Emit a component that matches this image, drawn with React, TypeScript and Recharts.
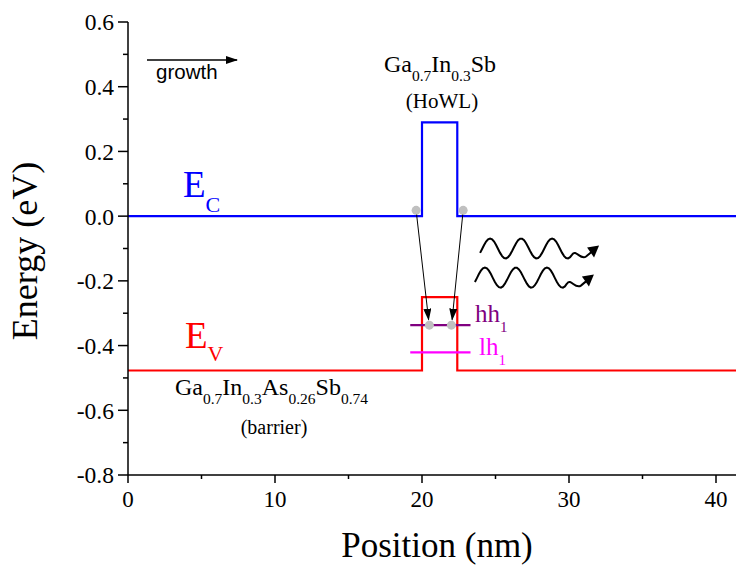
import React from 'react';
import { ComposedChart, Line, Scatter, XAxis, YAxis } from 'recharts';

// band-edge profile (position in nm, energy in eV)
const edgeX = [0, 20, 20, 22.4, 22.4, 42];
const ecY = [0, 0, 0.29, 0.29, 0, 0];
const evY = [-0.477, -0.477, -0.25, -0.25, -0.477, -0.477];

// confined levels in the well
const levelX = [19.2, 23.3];
const hh1Y = -0.337;
const lh1Y = -0.421;

// carriers (grey dots) and transitions
const carrierX = [19.6, 22.8, 20.5, 22.0];
const carrierY = [0.018, 0.018, -0.337, -0.337];
const arrowFromX = [19.6, 22.8];
const arrowFromY = [0.018, 0.018];
const arrowToX = [20.45, 22.05];
const arrowToY = [-0.32, -0.32];

// emitted photons (start of each wavy arrow)
const photonX = [23.95, 23.6];
const photonY = [-0.1, -0.19];

const xTicks = [0, 5, 10, 15, 20, 25, 30, 35, 40];
const yTicks = [-0.8, -0.7, -0.6, -0.5, -0.4, -0.3, -0.2, -0.1, 0, 0.1, 0.2, 0.3, 0.4, 0.5, 0.6];

const SERIF = '"Liberation Serif", "Times New Roman", serif';
const SANS = '"Liberation Sans", Arial, sans-serif';

const ecData = edgeX.map((x, i) => ({ x, y: ecY[i] }));
const evData = edgeX.map((x, i) => ({ x, y: evY[i] }));
const hhData = levelX.map((x) => ({ x, y: hh1Y }));
const lhData = levelX.map((x) => ({ x, y: lh1Y }));
const carrierData = carrierX.map((x, i) => ({ x, y: carrierY[i] }));
const arrowData = arrowFromX.map((x, i) => [
  { x, y: arrowFromY[i] },
  { x: arrowToX[i], y: arrowToY[i] },
]);
const photonData = photonX.map((x, i) => ({ x, y: photonY[i] }));

function YTick({ x, y, payload }: any) {
  const v = payload.value as number;
  const major = Math.round(v * 10) % 2 === 0;
  return (
    <g>
      <line x1={x} x2={x - (major ? 10 : 5)} y1={y} y2={y} stroke="#000" strokeWidth={1.5} />
      {major && (
        <text x={x - 14} y={y} dy="0.36em" textAnchor="end" fontFamily={SERIF} fontSize={23.5} fill="#000">
          {v.toFixed(1)}
        </text>
      )}
    </g>
  );
}

function XTick({ x, y, payload }: any) {
  const v = payload.value as number;
  const major = v % 10 === 0;
  return (
    <g>
      <line x1={x} x2={x} y1={y} y2={y + (major ? 8 : 4)} stroke="#000" strokeWidth={1.5} />
      {major && (
        <text x={x} y={y + 32} textAnchor="middle" fontFamily={SERIF} fontSize={23} fill="#000">
          {v}
        </text>
      )}
    </g>
  );
}

function GreyDot({ cx, cy }: any) {
  return <circle cx={cx} cy={cy} r={4.5} fill="#c0c0c0" />;
}

// wavy photon arrow drawn from its anchor point
function Photon({ cx, cy }: any) {
  const pts: string[] = [];
  for (let t = 0; t <= 92; t += 2) {
    const yy = -10 * Math.cos((2 * Math.PI * (t - 10)) / 31);
    pts.push(`${(cx + t).toFixed(1)},${(cy + yy).toFixed(1)}`);
  }
  const ex = cx + 92;
  const ey = cy - 10 * Math.cos((2 * Math.PI * 82) / 31);
  const d =
    `M${pts.join(' L')} ` +
    `C${ex + 4},${ey - 6} ${ex + 8},${cy + 12} ${ex + 14},${cy + 8} ` +
    `L${ex + 20},${cy + 3}`;
  return (
    <g>
      <path d={d} fill="none" stroke="#000" strokeWidth={2} />
      <path
        d={`M${ex + 27},${cy - 3} L${ex + 15},${cy - 1} L${ex + 22},${cy + 9} Z`}
        fill="#000"
      />
    </g>
  );
}

export default function App() {
  return (
    <div style={{ position: 'absolute', left: 0, top: 0, width: 736, height: 567, overflow: 'hidden', background: '#fff' }}>
      <ComposedChart width={760} height={567} margin={{ top: 22, right: 14.6, bottom: 0, left: 0 }}>
        <XAxis
          dataKey="x"
          type="number"
          domain={[0, 42]}
          ticks={xTicks}
          allowDataOverflow
          height={92}
          tickSize={0}
          tickMargin={0}
          tickLine={false}
          tick={<XTick />}
          axisLine={{ stroke: '#000', strokeWidth: 1.5 }}
          interval={0}
        />
        <XAxis
          xAxisId="top"
          orientation="top"
          type="number"
          domain={[0, 42]}
          height={0}
          tick={false}
          tickLine={false}
          axisLine={{ stroke: '#000', strokeWidth: 1.5 }}
        />
        <YAxis
          type="number"
          domain={[-0.8, 0.6]}
          ticks={yTicks}
          allowDataOverflow
          width={128}
          tickSize={0}
          tickMargin={0}
          tickLine={false}
          tick={<YTick />}
          axisLine={{ stroke: '#000', strokeWidth: 1.5 }}
          interval={0}
        />
        <Line data={ecData} dataKey="y" type="linear" stroke="#0000ff" strokeWidth={2.2} dot={false} activeDot={false} isAnimationActive={false} />
        <Line data={evData} dataKey="y" type="linear" stroke="#ff0000" strokeWidth={2.2} dot={false} activeDot={false} isAnimationActive={false} />
        <Line data={hhData} dataKey="y" type="linear" stroke="#800080" strokeWidth={2.2} dot={false} activeDot={false} isAnimationActive={false} />
        <Line data={lhData} dataKey="y" type="linear" stroke="#ff00ff" strokeWidth={2.2} dot={false} activeDot={false} isAnimationActive={false} />
        {arrowData.map((d, i) => (
          <Line
            key={`arrow-${i}`}
            data={d}
            dataKey="y"
            type="linear"
            stroke="#000"
            strokeWidth={1}
            dot={false}
            activeDot={false}
            markerEnd="url(#arrowHead)"
            isAnimationActive={false}
          />
        ))}
        <Scatter data={carrierData} dataKey="y" shape={<GreyDot />} isAnimationActive={false} />
        <Scatter data={photonData} dataKey="y" shape={<Photon />} isAnimationActive={false} />
      </ComposedChart>

      <svg width={736} height={567} style={{ position: 'absolute', left: 0, top: 0, pointerEvents: 'none' }}>
        <defs>
          <marker id="arrowHead" markerUnits="userSpaceOnUse" markerWidth={12} markerHeight={8} refX={11} refY={4} orient="auto">
            <path d="M0,0 L12,4 L0,8 Z" fill="#000" />
          </marker>
        </defs>

        <line x1={147} y1={60} x2={237} y2={60} stroke="#000" strokeWidth={1.3} markerEnd="url(#arrowHead)" />
        <text x={156} y={79} fontFamily={SANS} fontSize={20.5} fill="#000">growth</text>

        <text x={440} y={72} textAnchor="middle" fontFamily={SERIF} fontSize={24} fill="#000">
          Ga<tspan fontSize={15.5} dy={9}>0.7</tspan>
          <tspan dy={-9}>In</tspan>
          <tspan fontSize={15.5} dy={9}>0.3</tspan>
          <tspan dy={-9}>Sb</tspan>
        </text>
        <text x={442} y={108} textAnchor="middle" fontFamily={SERIF} fontSize={21} fill="#000">(HoWL)</text>

        <text x={183} y={197} fontFamily={SERIF} fontSize={37} fill="#0000ff">
          E<tspan fontSize={22} dy={15}>C</tspan>
        </text>
        <text x={185} y={348} fontFamily={SERIF} fontSize={37} fill="#ff0000">
          E<tspan fontSize={22} dy={13}>V</tspan>
        </text>

        <text x={175} y={395} fontFamily={SERIF} fontSize={24} fill="#000">
          Ga<tspan fontSize={15.5} dy={9}>0.7</tspan>
          <tspan dy={-9}>In</tspan>
          <tspan fontSize={15.5} dy={9}>0.3</tspan>
          <tspan dy={-9}>As</tspan>
          <tspan fontSize={15.5} dy={9}>0.26</tspan>
          <tspan dy={-9}>Sb</tspan>
          <tspan fontSize={15.5} dy={9}>0.74</tspan>
        </text>
        <text x={274} y={434} textAnchor="middle" fontFamily={SERIF} fontSize={20} fill="#000">(barrier)</text>

        <text x={475} y={322} fontFamily={SERIF} fontSize={25} fill="#800080">
          hh<tspan fontSize={15} dy={10}>1</tspan>
        </text>
        <text x={479} y={355} fontFamily={SERIF} fontSize={25} fill="#ff00ff">
          lh<tspan fontSize={15} dy={10}>1</tspan>
        </text>

        <text transform="translate(37,251) rotate(-90)" textAnchor="middle" fontFamily={SERIF} fontSize={36} fill="#000">
          Energy (eV)
        </text>
        <text x={437} y={557} textAnchor="middle" fontFamily={SERIF} fontSize={35} fill="#000">Position (nm)</text>
      </svg>
    </div>
  );
}
